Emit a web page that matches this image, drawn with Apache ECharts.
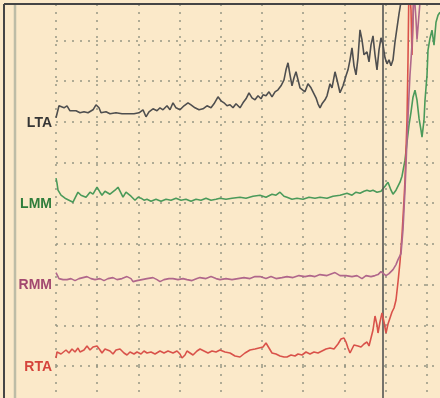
<!DOCTYPE html>
<html>
<head>
<meta charset="utf-8">
<script src="https://cdn.jsdelivr.net/npm/echarts/dist/echarts.min.js"></script>
<style>
  html, body { margin: 0; padding: 0; background: #fbe9c9; }
  #main { width: 440px; height: 398px; }
</style>
</head>
<body>
<div id="main"></div>
<script>
// one grid division: 41.2 time units across, 40.7 amplitude units up
const xStep = 41.2;
const yStep = 40.7;
const xMax = 384;
const yMax = 362;
const onsetT = 327; // dark marker line

const channels = ['LTA', 'LMM', 'RMM', 'RTA'];
// baseline of each channel, in grid divisions from the bottom line
const baseDiv = [6, 4, 2, 0];

// [time, amplitude above baseline]
const lta = [
  [0, 4], [1, 8], [3, 16], [5, 18], [8, 14], [11, 16], [14, 11], [16, 10], [20, 11], [24, 9],
  [28, 10], [32, 9], [37, 12], [40, 17], [43, 14], [45, 9], [50, 10], [54, 8], [60, 9], [66, 8],
  [72, 8], [78, 8], [83, 9], [87, 12], [90, 5], [93, 10], [97, 13], [101, 11], [104, 14], [107, 12],
  [111, 16], [114, 12], [117, 19], [120, 14], [124, 12], [128, 16], [132, 19], [135, 17], [139, 14], [143, 12],
  [147, 13], [151, 16], [155, 14], [158, 18], [162, 25], [165, 21], [168, 19], [171, 16], [174, 17], [177, 14],
  [180, 18], [184, 14], [187, 19], [190, 23], [193, 29], [196, 24], [199, 22], [202, 26], [205, 23], [207, 27],
  [210, 26], [213, 30], [216, 25], [219, 30], [222, 32], [225, 36], [228, 42], [230, 52], [232, 59], [234, 47],
  [236, 36], [238, 44], [240, 50], [242, 42], [244, 34], [246, 36], [249, 30], [252, 38], [255, 34], [257, 30],
  [260, 24], [262, 18], [264, 14], [266, 18], [269, 22], [271, 26], [274, 38], [276, 34], [279, 50], [281, 42],
  [284, 29], [287, 36], [290, 46], [292, 52], [294, 62], [296, 74], [298, 56], [300, 47], [302, 64], [304, 92],
  [306, 82], [308, 67], [311, 70], [313, 60], [315, 77], [317, 86], [319, 67], [321, 52], [323, 72], [325, 84],
  [327, 77], [329, 64], [331, 58], [333, 62], [335, 56], [337, 62], [339, 80], [341, 94], [343, 108], [345, 120],
  [347, 137]
];
const lmm = [
  [0, 25], [1, 20], [2, 13], [5, 8], [9, 5], [13, 3], [17, 1], [20, 7], [22, 11], [25, 8],
  [27, 10], [30, 6], [34, 11], [37, 9], [41, 16], [44, 11], [46, 8], [49, 12], [51, 13], [54, 9],
  [56, 8], [59, 13], [62, 16], [65, 10], [67, 6], [70, 11], [72, 13], [75, 7], [79, 3], [82, 6],
  [85, 5], [88, 3], [91, 4], [95, 2], [100, 4], [105, 2], [110, 4], [115, 3], [120, 5], [125, 3],
  [130, 4], [135, 2], [140, 4], [145, 3], [150, 5], [155, 3], [160, 4], [164, 5], [170, 4], [176, 5],
  [184, 6], [190, 5], [197, 7], [204, 8], [210, 6], [216, 9], [220, 8], [224, 11], [228, 7], [231, 6],
  [236, 4], [241, 5], [247, 4], [253, 6], [259, 5], [264, 6], [271, 5], [277, 7], [284, 8], [291, 10],
  [296, 8], [300, 11], [304, 10], [308, 12], [311, 13], [314, 12], [317, 13], [321, 11], [325, 12], [327, 12],
  [329, 17], [332, 21], [335, 13], [337, 9], [340, 13], [342, 15], [344, 21], [346, 27], [349, 43], [351, 61],
  [353, 78], [355, 91], [357, 106], [359, 113], [361, 103], [363, 85], [365, 73], [366, 66], [368, 83], [369, 103],
  [371, 128], [372, 153], [374, 165], [376, 173], [378, 158], [380, 181], [382, 188], [384, 191]
];
const rmm = [
  [0, 12], [1, 10], [3, 6], [7, 5], [11, 5], [15, 6], [19, 4], [23, 6], [27, 7], [31, 8],
  [35, 6], [39, 5], [44, 6], [48, 4], [52, 6], [57, 7], [61, 5], [66, 6], [71, 8], [75, 6],
  [77, 3], [81, 4], [86, 5], [91, 6], [97, 7], [101, 5], [104, 3], [108, 5], [113, 6], [117, 6],
  [122, 5], [127, 6], [131, 5], [136, 4], [141, 6], [144, 7], [150, 6], [155, 8], [160, 6], [164, 5],
  [170, 6], [176, 5], [182, 6], [188, 7], [194, 6], [199, 8], [204, 8], [210, 6], [215, 8], [220, 6],
  [226, 7], [231, 8], [237, 7], [243, 9], [249, 8], [254, 9], [259, 8], [264, 10], [271, 9], [279, 12],
  [284, 9], [290, 9], [296, 8], [301, 9], [306, 6], [310, 9], [315, 8], [319, 9], [322, 10], [325, 13],
  [327, 15], [330, 9], [333, 11], [337, 15], [340, 20], [342, 25], [345, 31], [347, 55], [349, 95], [351, 145],
  [353, 190], [354, 210], [356, 240], [357, 265], [358, 295], [360, 265], [361, 245], [363, 270], [365, 295]
];
const rta = [
  [0, 8], [1, 14], [3, 16], [5, 12], [7, 14], [10, 16], [13, 13], [16, 17], [19, 14], [22, 18],
  [24, 14], [28, 16], [31, 20], [34, 16], [37, 19], [41, 20], [44, 16], [46, 13], [49, 17], [51, 19],
  [54, 15], [57, 12], [60, 16], [64, 17], [68, 13], [71, 11], [74, 14], [78, 12], [81, 14], [85, 12],
  [88, 15], [91, 13], [95, 14], [99, 12], [104, 15], [108, 13], [112, 15], [117, 13], [121, 15], [124, 12],
  [126, 8], [129, 11], [131, 15], [134, 13], [137, 11], [141, 15], [144, 17], [148, 15], [152, 13], [156, 15],
  [160, 14], [164, 16], [169, 14], [174, 13], [179, 10], [184, 9], [189, 13], [194, 16], [199, 17], [203, 18],
  [207, 19], [210, 23], [213, 18], [216, 13], [220, 12], [224, 10], [228, 9], [231, 9], [235, 11], [239, 10],
  [242, 12], [246, 11], [250, 14], [254, 12], [258, 14], [262, 13], [266, 15], [270, 17], [274, 18], [278, 17],
  [282, 22], [285, 27], [288, 28], [290, 24], [292, 18], [294, 13], [296, 15], [298, 21], [300, 19], [302, 20],
  [305, 19], [308, 22], [311, 24], [313, 20], [315, 21], [317, 36], [319, 50], [321, 41], [322, 33], [324, 44],
  [326, 53], [328, 44], [330, 33], [332, 42], [334, 48], [336, 54], [338, 58], [340, 66], [342, 84], [344, 104],
  [346, 131], [348, 166], [349, 186], [351, 246], [352, 306], [353, 386], [355, 356], [356, 311], [357, 346], [358, 386]
];

const traces = [lta, lmm, rmm, rta];
const lineColors = ['#4f4f4f', '#4b9a5a', '#b0678b', '#d9524a'];
const labelColors = ['#353535', '#2f7d3b', '#a2486f', '#d5443c'];

const dotted = { color: '#979684', width: 1.5, type: [2, 6] };

const chart = echarts.init(document.getElementById('main'));

const series = traces.map((d, i) => ({
  name: channels[i],
  type: 'line',
  xAxisIndex: 0,
  yAxisIndex: 0,
  showSymbol: false,
  data: d.map(([t, a]) => [t, baseDiv[i] * yStep + a]),
  lineStyle: { color: lineColors[i], width: 1.6 },
  // RMM drawn over RTA so both show in the burst
  z: [3, 4, 6, 5][i]
}));

const markerLine = {
  symbol: 'none',
  silent: true,
  label: { show: false },
  lineStyle: { color: '#545454', width: 1.6, type: 'solid' },
  data: [{ xAxis: onsetT }]
};
series[3].markLine = markerLine;
// empty series so the marker also runs through the bottom strip
series.push({
  type: 'line',
  xAxisIndex: 1,
  yAxisIndex: 1,
  data: [],
  markLine: markerLine
});

const xAxisBase = {
  type: 'value',
  min: 0,
  max: xMax,
  interval: xStep,
  axisLine: { show: false },
  axisTick: { show: false },
  axisLabel: { show: false },
  splitLine: { show: true, showMinLine: true, showMaxLine: false, lineStyle: dotted }
};

chart.setOption({
  animation: false,
  backgroundColor: '#fbe9c9',
  grid: [
    { left: 56, right: 0, top: 4, bottom: 32 },
    { left: 56, right: 0, top: 366, bottom: 0 }
  ],
  xAxis: [
    Object.assign({ gridIndex: 0 }, xAxisBase),
    Object.assign({ gridIndex: 1 }, xAxisBase)
  ],
  yAxis: [
    {
      gridIndex: 0,
      type: 'value',
      min: 0,
      max: yMax,
      interval: yStep,
      axisLine: { show: false },
      axisTick: { show: false },
      axisLabel: { show: false },
      splitLine: { show: true, showMinLine: true, showMaxLine: false, lineStyle: dotted }
    },
    { gridIndex: 1, type: 'value', min: 0, max: 1, show: false, splitLine: { show: false } }
  ],
  series: series
});

// channel names sit left of each baseline, frame lines drawn on top
const labels = channels.map((name, i) => {
  const p = chart.convertToPixel({ gridIndex: 0 }, [0, baseDiv[i] * yStep]);
  return {
    type: 'text',
    x: p[0] - 4,
    y: p[1] + 1,
    style: {
      text: name,
      fill: labelColors[i],
      font: 'bold 14px "Liberation Sans", Arial, sans-serif',
      align: 'right',
      verticalAlign: 'middle'
    }
  };
});

chart.setOption({
  graphic: labels.concat([
    { type: 'line', shape: { x1: 15, y1: 4, x2: 15, y2: 398 }, style: { stroke: '#bdbca6', lineWidth: 2.5 } },
    { type: 'line', shape: { x1: 4, y1: 4, x2: 4, y2: 398 }, style: { stroke: '#454545', lineWidth: 2 } },
    { type: 'line', shape: { x1: 4, y1: 4, x2: 440, y2: 4 }, style: { stroke: '#454545', lineWidth: 2 }, z: 10 }
  ])
});
</script>
</body>
</html>
